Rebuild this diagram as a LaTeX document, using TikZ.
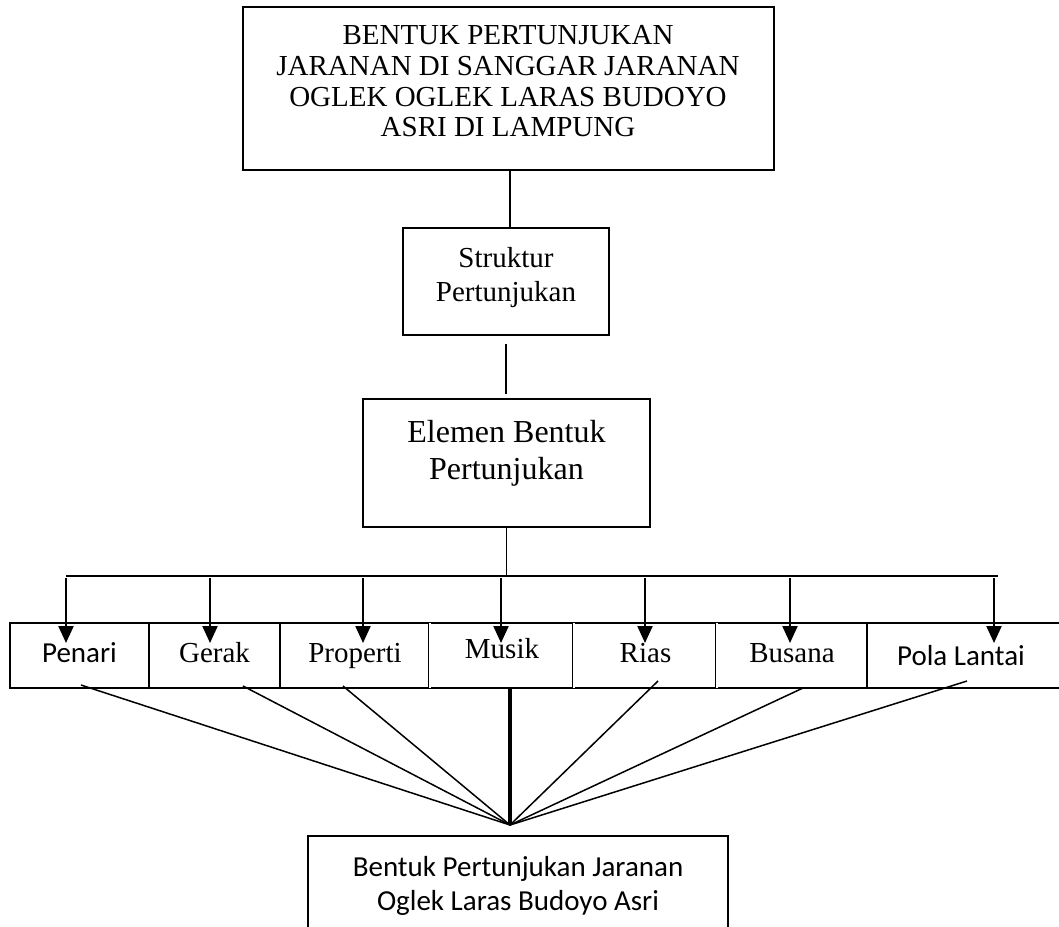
\documentclass[tikz,border=0pt]{standalone}
\usepackage{fontspec}
\setmainfont{Liberation Serif}
\newfontfamily\calib{Carlito}
\usetikzlibrary{arrows.meta}
\begin{document}
\begin{tikzpicture}[x=1pt,y=-1pt,
  box/.style={draw, line width=1.6pt, inner sep=0pt},
  cell/.style={inner sep=0pt, minimum height=65pt, text height=20pt, text depth=6pt,
    font=\fontsize{29}{31}\selectfont},
  ctext/.style={align=center, inner sep=0pt},
  conn/.style={line width=1.5pt},
  arr/.style={line width=2.2pt, -{Triangle[width=15pt,length=17pt]}},
]
\useasboundingbox (0,0) rectangle (1059,926);

% top box
\node[box, minimum width=531pt, minimum height=163pt] (top) at (508.5,88.5) {};
\node[ctext, font=\fontsize{29}{30.7}\selectfont] (toptext) at (508,81.5)
  {BENTUK PERTUNJUKAN\\JARANAN DI SANGGAR JARANAN\\OGLEK OGLEK LARAS BUDOYO\\ASRI DI LAMPUNG};

% struktur
\node[box, minimum width=206pt, minimum height=107pt] (struk) at (506,281.5) {};
\node[ctext, font=\fontsize{29}{34}\selectfont] (struktext) at (506,278) {Struktur\\Pertunjukan};

% elemen
\node[box, minimum width=287pt, minimum height=128pt] (elem) at (506.5,463) {};
\node[ctext, font=\fontsize{32}{37}\selectfont] (elemtext) at (506.5,453) {Elemen Bentuk\\Pertunjukan};

\draw[conn] (top.south) ++(1.5,0) -- ++(0,58);
\draw[conn, shorten <=8pt, shorten >=4pt] (struk.south) -- (struk.south |- elem.north);

% bus
\coordinate (busL) at (66,576);
\coordinate (busR) at (998,576);
\draw[conn] (elem.south) -- (elem.south |- busL);
\draw[conn] (busL) -- (busR);

% row cells
\node[cell, minimum width=139pt] (penari) at (79.5,655.5) {\calib Penari};
\node[cell, minimum width=131pt] (gerak) at (214.5,655.5) {Gerak};
\node[cell, minimum width=150pt] (prop) at (355,655.5) {Properti};
\node[cell, minimum width=144pt] (musik) at (502,655.5) {\raisebox{4pt}{Musik}};
\node[cell, minimum width=143pt] (rias) at (645.5,655.5) {Rias};
\node[cell, minimum width=150pt] (busana) at (792,655.5) {Busana};
\node[cell, minimum width=200pt] (pola) at (967,655.5) {\hspace*{-12pt}\raisebox{-3pt}{\calib Pola Lantai}};

\draw[line width=1.6pt] (pola.north east) -- (penari.north west) -- (penari.south west) -- (pola.south east);
\foreach \c in {gerak,prop,pola}
  \draw[line width=1.6pt] (\c.north west) -- (\c.south west);
\foreach \c in {musik,rias,busana}
  \draw[line width=0.8pt, double, double distance=1.6pt] (\c.north west) -- (\c.south west);

% arrows
\foreach \x in {66,210,363,501,645,790,994}
  \draw[arr] (busL -| \x,0) ++(0,2) -- ++(0,65);

% bottom box
\node[box, minimum width=420pt, minimum height=140pt] (bottom) at (518,906) {};
\node[ctext, font=\fontsize{29}{34}\calib\selectfont] (bottext) at (518,886)
  {Bentuk Pertunjukan Jaranan\\Oglek Laras Budoyo Asri};

% converging lines
\coordinate (conv) at (510,825);
\coordinate (sPenari) at (81,685);
\coordinate (sGerak) at (243,686);
\coordinate (sProp) at (343,686);
\coordinate (sRias) at (658,681);
\coordinate (sBusana) at (803,688);
\coordinate (sPola) at (967,681);
\foreach \s in {sPenari,sGerak,sProp,sRias,sBusana,sPola}
  \draw[conn] (\s) -- (conv);
\draw[line width=3.5pt] (conv |- musik.south) -- (conv);
\end{tikzpicture}
\end{document}
